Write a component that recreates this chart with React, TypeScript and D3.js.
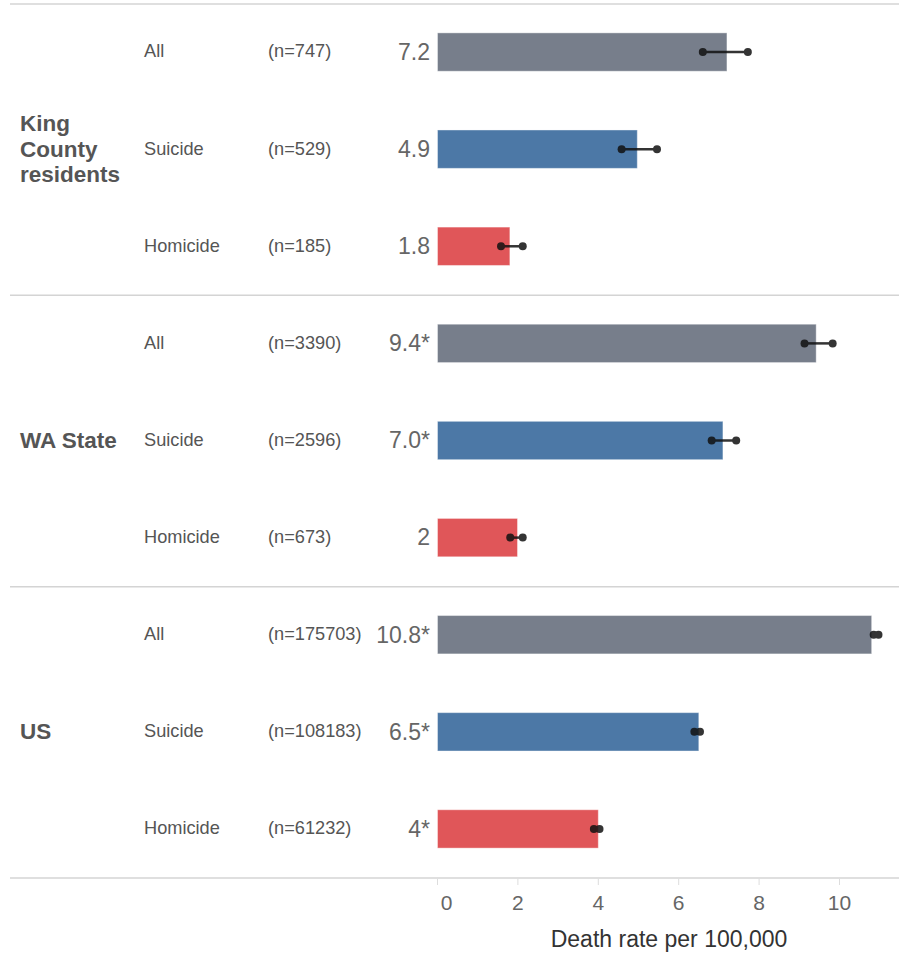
import React from "react";
import * as d3 from "d3";

const groups = ["King County residents", "WA State", "US"];
const groupLines = [["King", "County", "residents"], ["WA State"], ["US"]];
const categories = ["All", "Suicide", "Homicide"];
const counts = [
  [747, 529, 185],
  [3390, 2596, 673],
  [175703, 108183, 61232],
];
const rates = [
  [7.2, 4.97, 1.8],
  [9.42, 7.1, 1.99],
  [10.8, 6.5, 4.0],
];
const rateLabels = [
  ["7.2", "4.9", "1.8"],
  ["9.4*", "7.0*", "2"],
  ["10.8*", "6.5*", "4*"],
];
const lower = [
  [6.6, 4.58, 1.58],
  [9.13, 6.82, 1.81],
  [10.85, 6.39, 3.89],
];
const upper = [
  [7.72, 5.46, 2.12],
  [9.83, 7.43, 2.12],
  [10.97, 6.53, 4.03],
];
const xTicks = [0, 2, 4, 6, 8, 10];
const axisTitle = "Death rate per 100,000";

const colors = ["#777e8b", "#4c78a6", "#e05659"];
const FONT = "'Liberation Sans', Arial, sans-serif";

export default function App() {
  const W = 899;
  const H = 953;
  const x = d3.scaleLinear().domain([0, 10]).range([437.5, 839.5]);
  const rows = d3.range(9);
  const y = d3.scaleBand<number>().domain(rows).range([4, 878]).padding(0);
  const bw = y.bandwidth();
  const barH = bw * 0.395;
  const panelTops = [0, 1, 2].map((g) => y(g * 3)!);

  return (
    <svg width={W} height={H} style={{ position: "absolute", left: 0, top: 0, background: "#fff" }} fontFamily={FONT}>
      {[...panelTops, 878].map((yy, i) => (
        <line key={"sep" + i} x1={10} x2={899} y1={yy} y2={yy} stroke="#d4d4d4" strokeWidth={1.5} />
      ))}
      {groups.map((g, gi) => {
        const gTop = panelTops[gi];
        const gMid = gTop + bw * 1.5;
        const lines = groupLines[gi];
        const lh = 25.5;
        return (
          <g key={g}>
            <text x={20} fontSize={22.5} fontWeight="bold" fill="#555">
              {lines.map((ln, li) => (
                <tspan key={li} x={20} y={gMid + (li - (lines.length - 1) / 2) * lh - 1} dy="0.35em">
                  {ln}
                </tspan>
              ))}
            </text>
            {categories.map((c, ci) => {
              const r = gi * 3 + ci;
              const cy = y(r)! + bw / 2;
              return (
                <g key={c}>
                  <text x={144} y={cy - 1.5} dy="0.35em" fontSize={18.2} fill="#555">
                    {c}
                  </text>
                  <text x={268} y={cy - 1.5} dy="0.35em" fontSize={18.2} fill="#555">
                    {`(n=${counts[gi][ci]})`}
                  </text>
                  <text x={430} y={cy - 1} dy="0.36em" fontSize={23} fill="#666" textAnchor="end">
                    {rateLabels[gi][ci]}
                  </text>
                  <rect
                    x={x(0)}
                    y={cy - barH / 2 - 0.5}
                    width={x(rates[gi][ci]) - x(0)}
                    height={barH}
                    fill={colors[ci]}
                    stroke="#fff"
                    strokeOpacity={0.4}
                    strokeWidth={1}
                  />
                  <g opacity={0.85}>
                    <line
                      x1={x(lower[gi][ci])}
                      x2={x(upper[gi][ci])}
                      y1={cy - 0.5}
                      y2={cy - 0.5}
                      stroke="#111"
                      strokeWidth={2.5}
                    />
                    <circle cx={x(lower[gi][ci])} cy={cy - 0.5} r={4} fill="#111" />
                    <circle cx={x(upper[gi][ci])} cy={cy - 0.5} r={4} fill="#111" />
                  </g>
                </g>
              );
            })}
          </g>
        );
      })}
      {xTicks.map((t, i) => (
        <g key={"t" + t}>
          <line x1={x(t)} x2={x(t)} y1={879} y2={885} stroke="#ddd" strokeWidth={1} />
          <text x={x(t) + (i === 0 ? 9 : 0)} y={903} dy="0.35em" fontSize={21} fill="#666" textAnchor="middle">
            {t}
          </text>
        </g>
      ))}
      <text x={669} y={939} dy="0.35em" fontSize={23} fill="#333" textAnchor="middle">
        {axisTitle}
      </text>
    </svg>
  );
}
